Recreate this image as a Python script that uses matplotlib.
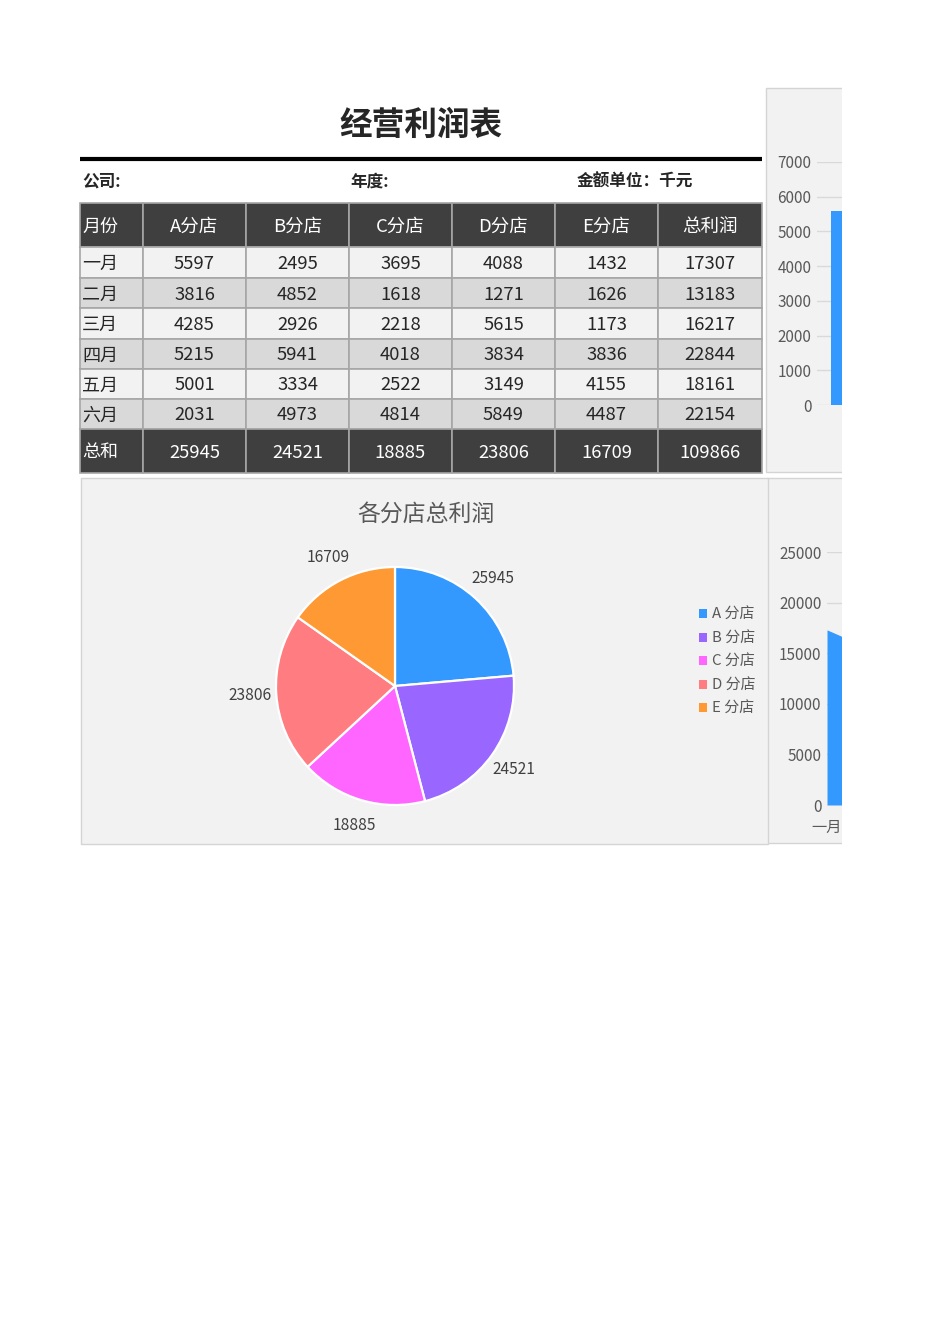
import matplotlib
matplotlib.use("Agg")
import matplotlib.pyplot as plt
from matplotlib.patches import Rectangle

plt.rcParams['font.family'] = ['Noto Sans CJK SC', 'DejaVu Sans']

# ---------------- data ----------------
title = "经营利润表"
header = ["月份", "A分店", "B分店", "C分店", "D分店", "E分店", "总利润"]
months = ["一月", "二月", "三月", "四月", "五月", "六月"]
branch_a = [5597, 3816, 4285, 5215, 5001, 2031]
branch_b = [2495, 4852, 2926, 5941, 3334, 4973]
branch_c = [3695, 1618, 2218, 4018, 2522, 4814]
branch_d = [4088, 1271, 5615, 3834, 3149, 5849]
branch_e = [1432, 1626, 1173, 3836, 4155, 4487]
month_total = [17307, 13183, 16217, 22844, 18161, 22154]
sum_label = "总和"
branch_sum = [25945, 24521, 18885, 23806, 16709]
grand_total = 109866
pie_title = "各分店总利润"
pie_labels = ["A 分店", "B 分店", "C 分店", "D 分店", "E 分店"]
pie_colors = ["#3399FF", "#9966FF", "#FF66FF", "#FF7C80", "#FF9933"]
bar_ticks = [0, 1000, 2000, 3000, 4000, 5000, 6000, 7000]
area_ticks = [0, 5000, 10000, 15000, 20000, 25000]

W, H = 950, 1344
fig = plt.figure(figsize=(W / 100, H / 100), dpi=100)
fig.patch.set_facecolor("white")


def fx(px):
    return px / W


def fy(py):
    return 1 - py / H


# overlay axes in pixel coordinates
ax0 = fig.add_axes([0, 0, 1, 1])
ax0.set_xlim(0, W)
ax0.set_ylim(H, 0)
ax0.axis("off")

# title and header info
ax0.text(421, 125, title, ha="center", va="center", fontsize=23.5,
         fontweight="bold", color="#262626")
ax0.plot([80, 762], [159, 159], color="black", lw=3, solid_capstyle="butt")
ax0.text(82, 182, "公司:", ha="left", va="center", fontsize=12,
         fontweight="bold", color="#262626")
ax0.text(350, 182, "年度:", ha="left", va="center", fontsize=12,
         fontweight="bold", color="#262626")
ax0.text(577, 182, "金额单位：千元", ha="left", va="center", fontsize=12,
         fontweight="bold", color="#262626")

# table
col_edges = [80, 143, 246, 349, 452, 555, 658, 762]
row_edges = [203, 247, 278, 308, 339, 369, 399, 429, 473]
grid_col = "#A6A6A6"
dark = "#3F3F3F"
body_rows = []
for i, m in enumerate(months):
    body_rows.append([m, branch_a[i], branch_b[i], branch_c[i], branch_d[i],
                      branch_e[i], month_total[i]])
all_rows = [header] + body_rows + [[sum_label] + branch_sum + [grand_total]]
n_rows = len(all_rows)
for r, row in enumerate(all_rows):
    y0, y1 = row_edges[r], row_edges[r + 1]
    if r == 0 or r == n_rows - 1:
        fc, tc = dark, "white"
    else:
        fc = "#F2F2F2" if r % 2 == 1 else "#D9D9D9"
        tc = "#262626"
    for c, val in enumerate(row):
        x0, x1 = col_edges[c], col_edges[c + 1]
        ax0.add_patch(Rectangle((x0, y0), x1 - x0, y1 - y0, facecolor=fc,
                                edgecolor=grid_col, lw=1.2, zorder=2))
        if c == 0:
            ax0.text(x0 + 2, (y0 + y1) / 2 + 1.5, str(val), ha="left",
                     va="center", fontsize=13, color=tc, zorder=3)
        else:
            ax0.text((x0 + x1) / 2, (y0 + y1) / 2 + 1.5, str(val),
                     ha="center", va="center", fontsize=13.3, color=tc,
                     zorder=3)

# chart boxes
box_fc = "#F2F2F2"
box_ec = "#D4D4D4"
ax0.add_patch(Rectangle((766, 88), 200, 384, facecolor=box_fc,
                        edgecolor=box_ec, lw=1, zorder=1))
ax0.add_patch(Rectangle((767, 478), 200, 365, facecolor=box_fc,
                        edgecolor=box_ec, lw=1, zorder=1))
ax0.add_patch(Rectangle((81, 478), 687, 366, facecolor=box_fc,
                        edgecolor=box_ec, lw=1, zorder=1))
ax0.text(426, 514, pie_title, ha="center", va="center", fontsize=16.5,
         color="#595959")

# ---------------- pie ----------------
R = 119
cx, cy = 395, 686
S = 2.5 * R
axp = fig.add_axes([fx(cx - S / 2), fy(cy + S / 2), S / W, S / H])
wedges, texts = axp.pie(branch_sum, labels=[str(v) for v in branch_sum],
                        colors=pie_colors, startangle=90, counterclock=False,
                        labeldistance=1.22,
                        wedgeprops=dict(edgecolor="white", linewidth=1.6),
                        textprops=dict(fontsize=11.2, color="#404040"))
for t in texts:
    t.set_ha("center")
    t.set_va("center")
axp.set_xlim(-1.25, 1.25)
axp.set_ylim(-1.25, 1.25)
axp.set_aspect("equal")

handles = [Rectangle((0, 0), 1, 1, facecolor=c, edgecolor="none")
           for c in pie_colors]
leg = fig.legend(handles, pie_labels, loc="upper left",
                 bbox_to_anchor=(fx(699), fy(608)), frameon=False,
                 fontsize=10.8, handlelength=0.55, handleheight=0.55,
                 handletextpad=0.35, labelspacing=0.63, borderaxespad=0,
                 borderpad=0)
for t in leg.get_texts():
    t.set_color("#595959")

# ---------------- right top: clustered column (clipped) ----------------
cat_px = 112
axb = fig.add_axes([fx(817), fy(405), cat_px / W, (405 - 162) / H])
axb.set_facecolor("none")
series = [branch_a, branch_b, branch_c, branch_d, branch_e]
bw = 0.15
for k, s in enumerate(series):
    axb.bar([i + (k - 2) * bw for i in range(len(months))], s, width=bw,
            color=pie_colors[k], zorder=2)
axb.set_xticks([])
axb.set_xlim(-0.5, 0.5)
axb.set_ylim(0, 7000)
axb.set_yticks(bar_ticks)
axb.yaxis.grid(True, color="#D9D9D9", lw=1, zorder=0)
for sp in axb.spines.values():
    sp.set_visible(False)
axb.tick_params(axis="y", length=0, pad=4, labelsize=11,
                labelcolor="#595959")

# ---------------- right bottom: area (clipped) ----------------
step_px = 95
axa = fig.add_axes([fx(827), fy(805), step_px / W, (805 - 552) / H])
axa.set_facecolor("none")
axa.fill_between(range(len(months)), month_total, color="#3399FF", lw=0,
                 zorder=2)
axa.set_xticks(range(len(months)))
axa.set_xticklabels(months)
axa.set_xlim(0, 1)
axa.set_ylim(0, 25000)
axa.set_yticks(area_ticks)
axa.yaxis.grid(True, color="#D9D9D9", lw=1, zorder=0)
for sp in axa.spines.values():
    sp.set_visible(False)
axa.tick_params(axis="y", length=0, pad=4, labelsize=11,
                labelcolor="#595959")
axa.tick_params(axis="x", length=0, pad=10, labelsize=11,
                labelcolor="#595959")

# page clip on the right
fig.add_artist(Rectangle((fx(842), 0), 1, 1, transform=fig.transFigure,
                         facecolor="white", edgecolor="none", zorder=20))

fig.savefig("out.png", dpi=100, facecolor="white")
